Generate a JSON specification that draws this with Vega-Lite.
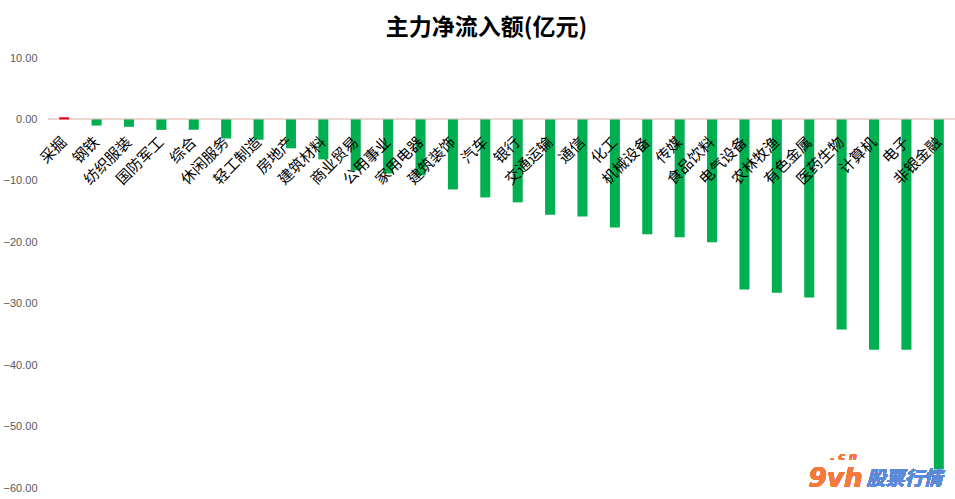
{
  "$schema": "https://vega.github.io/schema/vega-lite/v6.json",
  "width": 907,
  "height": 430,
  "autosize": "none",
  "padding": {"left": 48, "top": 58, "right": 0, "bottom": 11},
  "background": "white",
  "config": {"view": {"stroke": null}},
  "title": {
    "text": "主力净流入额(亿元)",
    "font": "Noto Sans CJK SC",
    "fontSize": 23,
    "fontWeight": "bold",
    "color": "#000000",
    "anchor": "middle",
    "offset": 12,
    "dx": -15
  },
  "datasets": {
    "flows": [
      {"industry": "采掘", "value": 0.35},
      {"industry": "钢铁", "value": -1.0},
      {"industry": "纺织服装", "value": -1.2},
      {"industry": "国防军工", "value": -1.7},
      {"industry": "综合", "value": -1.7},
      {"industry": "休闲服务", "value": -3.1},
      {"industry": "轻工制造", "value": -3.3},
      {"industry": "房地产", "value": -4.7},
      {"industry": "建筑材料", "value": -6.5},
      {"industry": "商业贸易", "value": -8.3},
      {"industry": "公用事业", "value": -8.8},
      {"industry": "家用电器", "value": -9.1},
      {"industry": "建筑装饰", "value": -11.4},
      {"industry": "汽车", "value": -12.7},
      {"industry": "银行", "value": -13.5},
      {"industry": "交通运输", "value": -15.5},
      {"industry": "通信", "value": -15.8},
      {"industry": "化工", "value": -17.6},
      {"industry": "机械设备", "value": -18.7},
      {"industry": "传媒", "value": -19.2},
      {"industry": "食品饮料", "value": -20.0},
      {"industry": "电气设备", "value": -27.7},
      {"industry": "农林牧渔", "value": -28.2},
      {"industry": "有色金属", "value": -29.0},
      {"industry": "医药生物", "value": -34.2},
      {"industry": "计算机", "value": -37.5},
      {"industry": "电子", "value": -37.5},
      {"industry": "非银金融", "value": -57.0}
    ]
  },
  "data": {"name": "flows"},
  "layer": [
    {
      "mark": {"type": "rule", "color": "#f0d2d2", "strokeWidth": 1},
      "encoding": {"y": {"datum": 0}}
    },
    {
      "mark": {"type": "bar"},
      "encoding": {
        "x": {
          "field": "industry",
          "type": "nominal",
          "sort": null,
          "scale": {"paddingInner": 0.69, "paddingOuter": 0.345},
          "axis": {
            "title": null,
            "orient": "bottom",
            "offset": -368,
            "domain": false,
            "ticks": false,
            "labelAngle": -45,
            "labelAlign": "right",
            "labelBaseline": "middle",
            "labelPadding": 19,
            "labelOffset": 0,
            "labelFont": "Noto Sans CJK SC",
            "labelFontSize": 15,
            "labelColor": "#000000",
            "labelOverlap": false,
            "zindex": 1
          }
        },
        "y": {
          "field": "value",
          "type": "quantitative",
          "scale": {"domain": [-60, 10], "nice": false},
          "axis": {
            "title": null,
            "values": [-60, -50, -40, -30, -20, -10, 0, 10],
            "format": ".2f",
            "domain": false,
            "ticks": false,
            "grid": false,
            "labelPadding": 11,
            "labelFont": "Liberation Sans",
            "labelFontSize": 11,
            "labelColor": "#595959"
          }
        },
        "color": {
          "condition": {"test": "datum.value > 0", "value": "#e8001c"},
          "value": "#00b050"
        }
      }
    },
    {
      "mark": {"type": "text", "text": "9vh", "font": "DejaVu Sans", "fontSize": 26, "fontWeight": "bold", "fontStyle": "italic", "color": "#f47a3c", "align": "center", "baseline": "middle", "dx": -6},
      "encoding": {"x": {"datum": "医药生物"}, "y": {"datum": -58.5}}
    },
    {
      "mark": {"type": "text", "text": ". c n", "font": "DejaVu Sans", "fontSize": 11, "fontWeight": "bold", "fontStyle": "italic", "color": "#f47a3c", "align": "center", "baseline": "middle", "dx": 2},
      "encoding": {"x": {"datum": "医药生物"}, "y": {"datum": -55.0}}
    },
    {
      "mark": {"type": "text", "text": "股票行情", "font": "Noto Sans CJK SC", "fontSize": 19, "fontWeight": "bold", "fontStyle": "italic", "color": "#5b8ad8", "align": "center", "baseline": "middle", "dx": -2},
      "encoding": {"x": {"datum": "电子"}, "y": {"datum": -58.5}}
    }
  ]
}
